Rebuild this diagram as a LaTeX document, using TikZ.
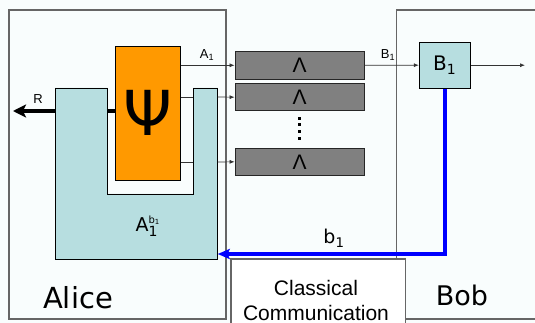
\documentclass[tikz,border=0pt]{standalone}
\usepackage{fontspec}
\setmainfont{Liberation Sans}
\newfontfamily\hand{DejaVu Sans}
\usetikzlibrary{arrows.meta}
\definecolor{bgc}{HTML}{F9FDFD}
\definecolor{lblue}{HTML}{B7DEE0}
\definecolor{orng}{HTML}{FF9900}
\definecolor{gbox}{HTML}{808080}
\definecolor{frame}{HTML}{666666}
\tikzset{
  party/.style={draw=frame, line width=1.3pt},
  graybox/.style={draw=black!85, fill=gbox, line width=1pt, minimum width=129pt, minimum height=27.5pt, inner sep=0pt, font=\fontsize{21}{21}\selectfont},
  lbox/.style={draw=black, fill=lblue, line width=0.9pt, inner sep=0pt},
  wire/.style={draw=black!80, line width=0.7pt},
  warrow/.style={wire, -{Latex[length=5pt,width=4pt]}},
  lab/.style={font=\fontsize{13}{13}\selectfont, inner sep=0pt},
}
\begin{document}
\begin{tikzpicture}[x=1pt,y=-1pt]
\useasboundingbox (0,0) rectangle (535,323);
\fill[bgc] (0,0) rectangle (535,323);
% Alice frame
\draw[party] (9,10) rectangle (226,319);
% Bob frame
\draw[party] (535,10) -- (396.7,10) -- (396.7,259);
\draw[party] (405.7,319) -- (535,319);
% Classical communication box
\fill[white] (231,259) rectangle (405.7,323);
\draw[party] (231,323) |- (405.7,259) -- (405.7,323);
\node[font=\fontsize{21}{21}\selectfont, inner sep=0pt] (cc) at (316,288) {Classical};
\node[font=\fontsize{21}{21}\selectfont, inner sep=0pt] (cc2) at (316,312.5) {Communication};
% R arrow (behind U)
\coordinate (rtip) at (13,111);
\draw[line width=4pt, -{Stealth[length=13pt,width=13pt,inset=3pt]}] (130,111) -- (rtip);
\node[lab] (rl) at (38,99) {R};
% U-shaped box
\filldraw[fill=lblue, draw=black, line width=0.9pt]
  (55,88) -- (107,88) -- (107,194) -- (193,194) -- (193,88) -- (217.7,88)
  -- (217.7,259) -- (55,259) -- cycle;
\coordinate (uR1) at (193,97);
\coordinate (uR2) at (193,162);
\coordinate (uO1) at (217.7,97);
\coordinate (uO2) at (217.7,162);
\coordinate (uin) at (217.7,254);
\node[inner sep=0pt] (ab) at (148,226) {\hand\fontsize{19}{19}\selectfont $\mbox{A}^{\mbox{\fontsize{10}{10}\selectfont b\textsubscript{1}}}_{\mbox{\fontsize{14}{14}\selectfont 1}}$};
% Psi box
\node[draw=black, fill=orng, line width=0.9pt, minimum width=64.7pt, minimum height=133.7pt, inner sep=0pt] (psi) at (147.7,113.8) {};
\node[inner sep=0pt, font=\hand\fontsize{62}{62}\selectfont] (psil) at (147.7,112.5) {Ψ};
% gray boxes
\node[graybox] (g1) at (299.6,65.3) {Λ};
\node[graybox] (g2) at (299.6,97.2) {Λ};
\node[graybox] (g3) at (299.6,161.8) {Λ};
\foreach \yy [count=\i] in {118.3,124.8,131.3,138.3}
  \fill[black] (298.2,\yy-1.4) rectangle (300.9,\yy+1.4);
% wires
\draw[warrow] (psi.east |- g1.west) -- (g1.west);
\node[lab] (a1) at (207,55) {A\textsubscript{1}};
\draw[wire] (psi.east |- uR1) -- (uR1);
\draw[warrow] (uO1) -- (g2.west);
\draw[wire] (psi.east |- uR2) -- (uR2);
\draw[warrow] (uO2) -- (g3.west);
% Bob box
\node[lbox, minimum width=51pt, minimum height=46.3pt, font=\hand\fontsize{20}{20}\selectfont] (b1) at (444.8,65.2) {B\textsubscript{1}};
\draw[warrow] (g1.east) -- (b1.west);
\node[lab] (b1l) at (388,55) {B\textsubscript{1}};
\coordinate (bout) at (525,65.2);
\draw[warrow] (b1.east) -- (bout);
% classical blue wire
\draw[draw=blue, line width=3.5pt, -{Stealth[length=12pt,width=10pt,inset=2pt]}] (b1.south) -- (b1.south |- uin) -- (uin);
\node[inner sep=0pt, font=\hand\fontsize{19}{19}\selectfont] (bl) at (334,238) {b\textsubscript{1}};
% party names
\node[inner sep=0pt, font=\hand\fontsize{29}{29}\selectfont] (alice) at (78,298) {Alice};
\node[inner sep=0pt, font=\hand\fontsize{27}{27}\selectfont] (bob) at (462,295) {Bob};
\end{tikzpicture}
\end{document}
